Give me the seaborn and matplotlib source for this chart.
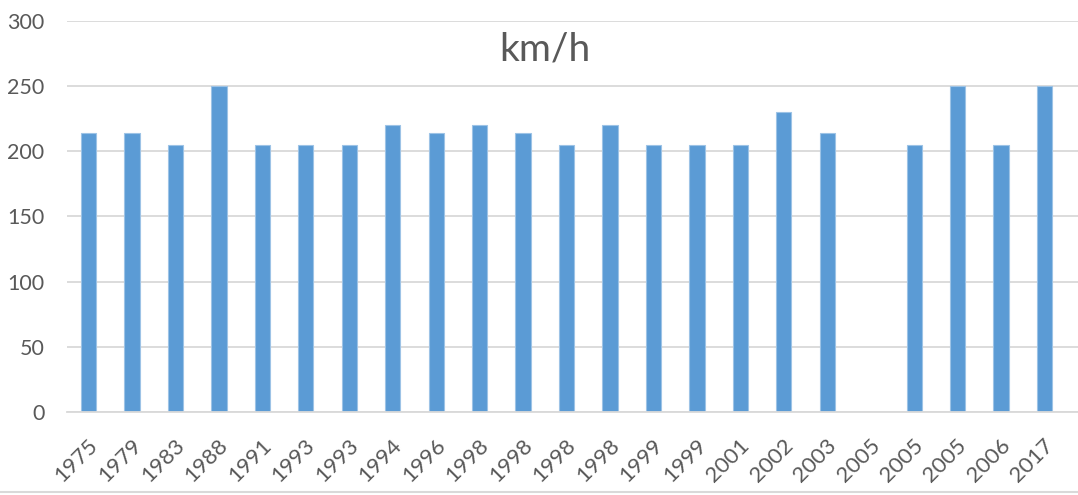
import numpy as np
import pandas as pd
import matplotlib
matplotlib.use("Agg")
import matplotlib.pyplot as plt
import seaborn as sns
from matplotlib.lines import Line2D
from matplotlib.transforms import ScaledTranslation

years = ['1975', '1979', '1983', '1988', '1991', '1993', '1993', '1994', '1996', '1998',
         '1998', '1998', '1998', '1999', '1999', '2001', '2002', '2003', '2005', '2005',
         '2005', '2006', '2017']
speeds = [214, 214, 205, 250, 205, 205, 205, 220, 214, 220,
          214, 205, 220, 205, 205, 205, 230, 214, np.nan, 205,
          250, 205, 250]

df = pd.DataFrame({'pos': list(range(len(years))), 'kmh': speeds})

sns.set_style('white')
plt.rcParams['font.family'] = ['Lato', 'DejaVu Sans']

fig = plt.figure(figsize=(10.78, 4.95), dpi=100)
ax = fig.add_axes([0.062, 0.1677, 0.938, 0.79])

sns.barplot(data=df, x='pos', y='kmh', order=list(range(len(years))),
            color='#5B9BD5', saturation=1, width=0.35,
            edgecolor='#9DC3E6', linewidth=0.8, ax=ax)

ax.set_xlim(-0.5, 22.77)
ax.set_ylim(0, 300)
ax.set_yticks(range(0, 301, 50))
ax.yaxis.grid(True, color='#d9d9d9', linewidth=1.3)
ax.set_axisbelow(True)
for s in ['top', 'right', 'left']:
    ax.spines[s].set_visible(False)
ax.spines['bottom'].set_color('#d9d9d9')
ax.spines['bottom'].set_linewidth(1.3)

ax.set_xticks(range(len(years)))
ax.set_xticklabels(years, rotation=45, ha='right', va='center', rotation_mode='anchor')
ax.tick_params(axis='x', length=0, labelsize=16, labelcolor='#595959', pad=22)
ax.tick_params(axis='y', length=0, labelsize=15.5, labelcolor='#595959', pad=16)
# nudge x labels a little to the right, like the original
for lbl in ax.get_xticklabels():
    lbl.set_transform(lbl.get_transform() + ScaledTranslation(0.06, 0, fig.dpi_scale_trans))
ax.set_xlabel('')
ax.set_ylabel('')

ax.text(0.473, 0.926, 'km/h', transform=ax.transAxes, ha='center', va='center',
        fontsize=28, color='#595959')

fig.add_artist(Line2D([0, 1], [0.006, 0.006], color='#d9d9d9', linewidth=1.5))

fig.savefig('out.png', dpi=100)
